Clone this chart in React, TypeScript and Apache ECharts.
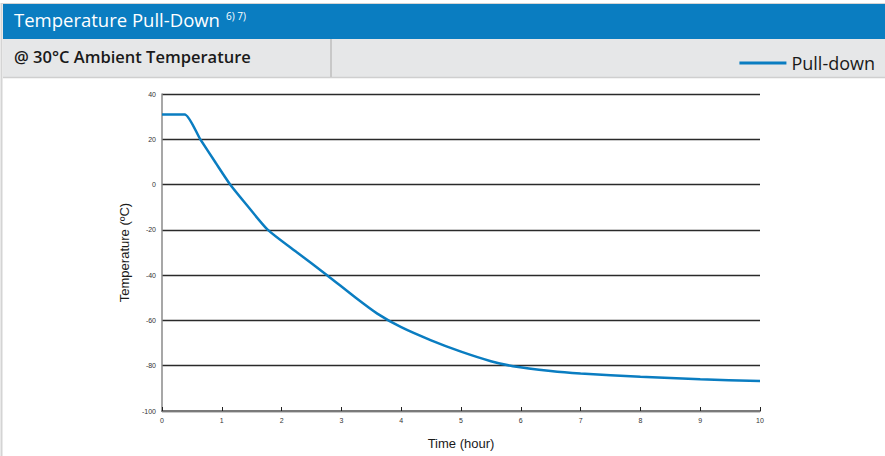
import React, { useEffect, useRef } from "react";
import * as echarts from "echarts";

const hours = [0, 0.38, 0.64, 0.9, 1.14, 1.4, 1.77, 2.26, 2.76, 3.24, 3.6, 4.0, 4.5, 5.0, 5.5, 5.87, 6.5, 7, 8, 9, 10];
const temps = [31, 31, 20, 9.5, 0, -8.5, -20, -30, -40, -50, -57, -63, -68.8, -73.8, -78, -80.2, -82.3, -83.4, -84.9, -86, -86.8];
const xTicks = { min: 0, max: 10, step: 1 };
const yTicks = { min: -100, max: 40, step: 20 };

const seriesName = "Pull-down";
const titleText = "Temperature Pull-Down";
const titleNote = "6) 7)";
const subtitleText = "@ 30°C Ambient Temperature";
const xName = "Time (hour)";
const yName = "Temperature (ºC)";

const BLUE = "#0a7dc1";

export default function App() {
  const ref = useRef<HTMLDivElement>(null);
  useEffect(() => {
    document.body.style.margin = "0";
    const chart = echarts.init(ref.current!, null, { renderer: "svg" });
    const data = hours.map((h, i) => [h, temps[i]]);
    chart.setOption({
      animation: false,
      backgroundColor: "#ffffff",
      textStyle: { fontFamily: "Liberation Sans, Arial, sans-serif" },
      graphic: [
        { type: "line", shape: { x1: 1.5, y1: 3, x2: 1.5, y2: 456 }, style: { stroke: "#d4d4d4", lineWidth: 2 } },
        { type: "line", shape: { x1: 1, y1: 3.5, x2: 885, y2: 3.5 }, style: { stroke: "#d4d4d4", lineWidth: 1 } },
        { type: "rect", shape: { x: 3, y: 4, width: 882, height: 35 }, style: { fill: BLUE } },
        { type: "rect", shape: { x: 3, y: 39, width: 882, height: 38 }, style: { fill: "#e6e7e8" } },
        { type: "line", shape: { x1: 3, y1: 77.5, x2: 885, y2: 77.5 }, style: { stroke: "#cfcfcf", lineWidth: 1.5 } },
        { type: "line", shape: { x1: 331, y1: 39, x2: 331, y2: 77 }, style: { stroke: "#c8c8c8", lineWidth: 2 } },
        {
          type: "text", left: 14, top: 10,
          style: { text: titleText, fill: "#ffffff", fontSize: 18.5, fontFamily: "Open Sans, Noto Sans, sans-serif" }
        },
        {
          type: "text", left: 226, top: 11,
          style: { text: titleNote, fill: "#ffffff", fontSize: 10, fontFamily: "Open Sans, Noto Sans, sans-serif" }
        },
        {
          type: "text", left: 14, top: 48,
          style: { text: subtitleText, fill: "#1a1a1a", fontSize: 16.5, fontWeight: 600, fontFamily: "Open Sans, Noto Sans, sans-serif" }
        }
      ],
      legend: {
        right: 5,
        top: 49,
        icon: "rect",
        itemWidth: 47,
        itemHeight: 3,
        itemGap: 6,
        textStyle: { fontSize: 18, color: "#1a1a1a", fontFamily: "Open Sans, Noto Sans, sans-serif" },
        data: [seriesName]
      },
      grid: { left: 162, right: 125, top: 94, bottom: 45, containLabel: false },
      xAxis: {
        type: "value",
        min: xTicks.min,
        max: xTicks.max,
        interval: xTicks.step,
        name: xName,
        nameLocation: "middle",
        nameGap: 26,
        nameTextStyle: { fontSize: 13, color: "#1a1a1a" },
        axisLine: { show: true, onZero: false, lineStyle: { color: "#7a7a7a", width: 2 } },
        axisTick: { show: true, inside: true, length: 4, lineStyle: { color: "#222", width: 1 } },
        axisLabel: { fontSize: 7, color: "#333", margin: 6 },
        splitLine: { show: false }
      },
      yAxis: {
        type: "value",
        min: yTicks.min,
        max: yTicks.max,
        interval: yTicks.step,
        name: yName,
        nameLocation: "middle",
        nameGap: 31,
        nameTextStyle: { fontSize: 13, color: "#1a1a1a" },
        axisLine: { show: true, lineStyle: { color: "#8a8a8a", width: 1.5 } },
        axisTick: { show: false },
        axisLabel: { fontSize: 7, color: "#333", margin: 6 },
        splitLine: { show: true, lineStyle: { color: "#2a2a2a", width: 1.4 } }
      },
      series: [
        {
          name: seriesName,
          type: "line",
          data,
          showSymbol: false,
          smooth: 0.2,
          lineStyle: { color: BLUE, width: 2.5 },
          itemStyle: { color: BLUE }
        }
      ]
    });
    return () => chart.dispose();
  }, []);
  return <div ref={ref} style={{ position: "fixed", left: 0, top: 0, width: 885, height: 456 }} />;
}
